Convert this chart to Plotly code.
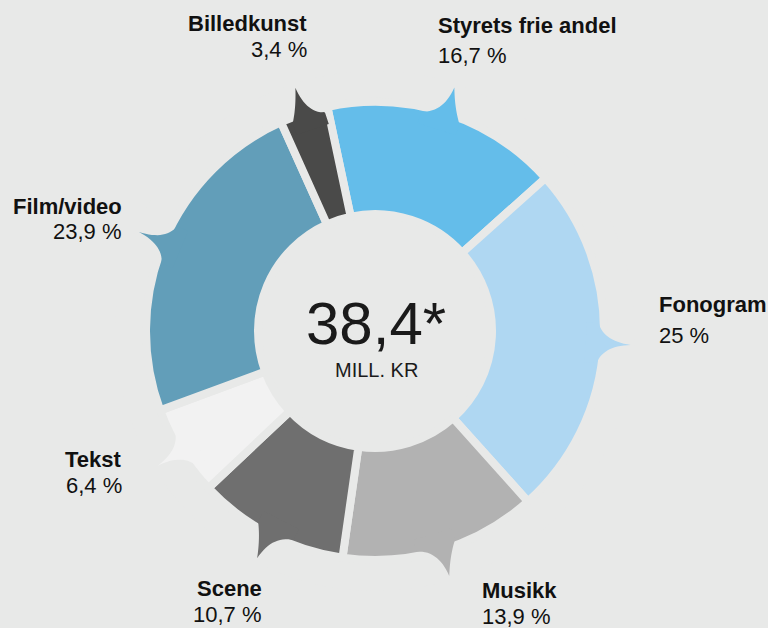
"""
Donut chart of grant shares (38,4 mill. kr) with speech-bubble tails
pointing at each label.
"""

import numpy as np
import plotly.graph_objects as go

# ---- data -------------------------------------------------------------
categories = ["Styrets frie andel", "Fonogram", "Musikk", "Scene", "Tekst", "Film/video", "Billedkunst"]
shares = [16.7, 25, 13.9, 10.7, 6.4, 23.9, 3.4]
share_labels = ["16,7 %", "25 %", "13,9 %", "10,7 %", "6,4 %", "23,9 %", "3,4 %"]
total_label = "38,4*"
unit_label = "MILL. KR"

# ---- style / geometry ---------------------------------------------------
colors = ["#64bdea", "#afd7f2", "#b2b2b2", "#6f6f6f", "#f2f2f2", "#629eb9", "#4a4a49"]
# which side of each tail is the straight one (+1 clockwise side, -1 other, 0 none)
tail_skew = [1, 0, -1, 1, 0, 0, -1]
BG = "#e8e9e8"
INK = "#111111"
FONT = "Liberation Sans"
W, H = 768, 628
CX, CY = 375, 331          # donut centre in page pixels
R_AX = 260                 # radial axis range == pixels
R_IN, R_OUT, R_TIP = 121, 225, 256
GAP = 8
START = -12                # first slice starts 12 deg left of top

# label anchors (page px): x, name middle y, share middle y, side
label_pos = [
    (437, 25, 55, "left"),
    (658, 305, 335, "left"),
    (481, 590, 616, "left"),
    (263, 588, 614, "right"),
    (123, 459, 485, "right"),
    (123, 206, 232, "right"),
    (308, 24, 50, "right"),
]

spans = np.array(shares) / sum(shares) * 360
mids = START + np.cumsum(spans) - spans / 2


def bezier(p0, p1, p2, n=16):
    t = np.linspace(0, 1, n)[:, None]
    return (1 - t) ** 2 * p0 + 2 * (1 - t) * t * p1 + t ** 2 * p2


def tail_side(sign, w, L, straight):
    base = np.array([-2, sign * w])
    tip = np.array([L, 0])
    ctrl = np.array([0.12 * L, sign * 0.12 * w])
    if straight:
        ctrl = ctrl + 0.75 * ((base + tip) / 2 - ctrl)
    return bezier(base, ctrl, tip)


def tail_polar(theta_deg, span_deg, skew):
    """Tail outline in local (u radial, v tangential) coords -> (r, theta)."""
    half_px = np.radians(span_deg / 2) * R_OUT - GAP / 2
    w = min(20, half_px - 3)
    L = R_TIP - R_OUT
    w_ccw = w * (1 + 0.2 * skew)
    w_cw = w * (1 - 0.2 * skew)
    if skew < 0:
        w_ccw = min(w_ccw, half_px - 1)
    side_ccw = tail_side(-1, w_ccw, L, skew < 0)
    side_cw = tail_side(1, w_cw, L, skew > 0)[::-1]
    pts = np.vstack([[-14, -w_ccw], side_ccw, side_cw, [[-14, w_cw]]])
    th = np.radians(theta_deg)
    er = np.array([np.sin(th), np.cos(th)])
    et = np.array([np.cos(th), -np.sin(th)])
    xy = (R_OUT + pts[:, :1]) * er + pts[:, 1:] * et
    r = np.hypot(xy[:, 0], xy[:, 1])
    t = np.degrees(np.arctan2(xy[:, 0], xy[:, 1]))
    return r, t


fig = go.Figure()

fig.add_trace(go.Barpolar(
    theta=mids,
    width=spans,
    r=[R_OUT + GAP / 2 - (R_IN - GAP / 2)] * len(shares),
    base=R_IN - GAP / 2,
    marker=dict(color=colors, line=dict(color=BG, width=GAP)),
    hoverinfo="skip",
    showlegend=False,
))

for m, s, c, k in zip(mids, spans, colors, tail_skew):
    r, t = tail_polar(m, s, k)
    fig.add_trace(go.Scatterpolar(
        r=r, theta=t, mode="lines", fill="toself",
        fillcolor=c, line=dict(width=0, color=c),
        hoverinfo="skip", showlegend=False,
    ))

annotations = []
for name, pct, (x, yn, yp, side) in zip(categories, share_labels, label_pos):
    for txt, yy in ((f"<b>{name}</b>", yn), (pct, yp)):
        annotations.append(dict(
            text=txt, x=x / W, y=1 - yy / H, xref="paper", yref="paper",
            xanchor=side, yanchor="middle", showarrow=False, borderpad=0,
            font=dict(family=FONT, size=22, color=INK),
        ))

annotations.append(dict(
    text=total_label, x=376 / W, y=1 - 323 / H, xref="paper", yref="paper",
    xanchor="center", yanchor="middle", showarrow=False,
    font=dict(family=FONT, size=60, color="#1a1a1a"),
))
annotations.append(dict(
    text=unit_label, x=376 / W, y=1 - 370 / H, xref="paper", yref="paper",
    xanchor="center", yanchor="middle", showarrow=False,
    font=dict(family=FONT, size=20, color="#1a1a1a"),
))

fig.update_layout(
    width=W, height=H,
    margin=dict(l=0, r=0, t=0, b=0),
    paper_bgcolor=BG, plot_bgcolor=BG,
    polar=dict(
        domain=dict(x=[(CX - R_AX) / W, (CX + R_AX) / W],
                    y=[(H - CY - R_AX) / H, (H - CY + R_AX) / H]),
        bgcolor=BG,
        radialaxis=dict(range=[0, R_AX], visible=False),
        angularaxis=dict(direction="clockwise", rotation=90, visible=False),
    ),
    annotations=annotations,
)

# drop the default page margin so the figure fills the window
fig.write_html("out.html", config={"displayModeBar": False},
               post_script="document.body.style.margin='0';")
